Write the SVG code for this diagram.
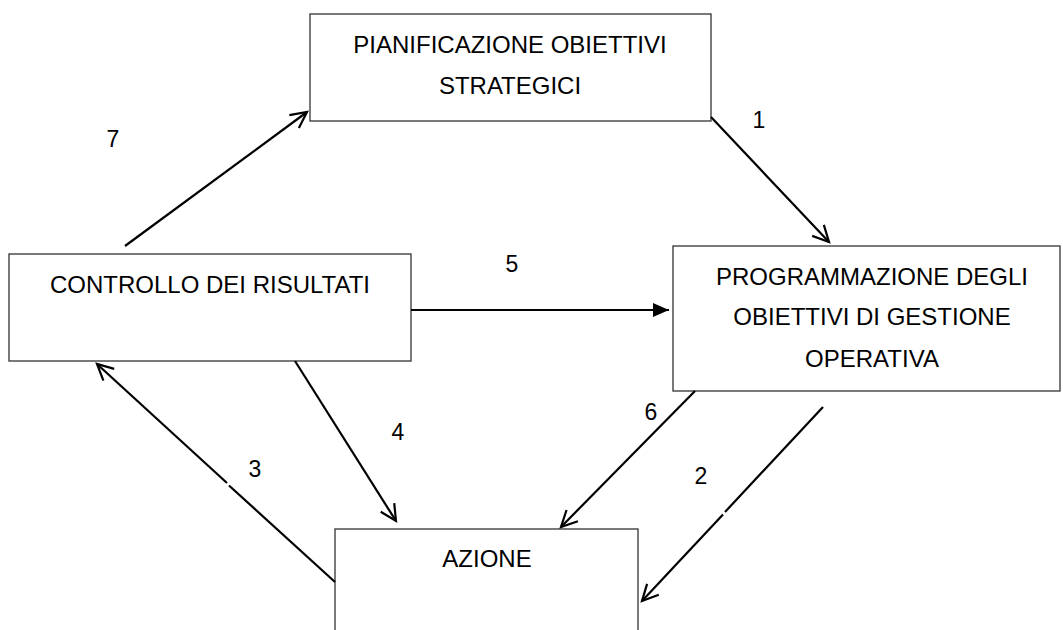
<svg xmlns="http://www.w3.org/2000/svg" width="1063" height="630" viewBox="0 0 1063 630">
  <style>
    .box { fill: #ffffff; stroke: #404040; stroke-width: 1.4; }
    .lbl { font-family: "Liberation Sans", Arial, sans-serif; font-size: 24px; fill: #000000; text-anchor: middle; }
    .num { font-family: "Liberation Sans", Arial, sans-serif; font-size: 23px; fill: #000000; text-anchor: middle; }
    .edge { fill: none; stroke: #000000; stroke-width: 2.2; }
  </style>
  <defs>
    <!-- open V arrowhead -->
    <marker id="open" markerUnits="userSpaceOnUse" markerWidth="24" markerHeight="24" refX="0" refY="0" viewBox="-20 -12 24 24" orient="auto" overflow="visible">
      <path d="M -16 -8 L 0 0 L -16 8" fill="none" stroke="#000000" stroke-width="2.2" stroke-linejoin="miter"/>
    </marker>
    <!-- solid triangle arrowhead -->
    <marker id="solid" markerUnits="userSpaceOnUse" markerWidth="24" markerHeight="24" refX="0" refY="0" viewBox="-20 -12 24 24" orient="auto" overflow="visible">
      <path d="M -16 -7 L 0 0 L -16 7 Z" fill="#000000" stroke="none"/>
    </marker>
  </defs>
  <rect width="1063" height="630" fill="#ffffff"/>

  <g id="pianificazione">
    <rect class="box" x="310" y="14" width="401" height="107"/>
    <text class="lbl" x="510" y="53">PIANIFICAZIONE OBIETTIVI</text>
    <text class="lbl" x="510" y="94">STRATEGICI</text>
  </g>

  <g id="controllo">
    <rect class="box" x="9" y="254" width="402" height="107"/>
    <text class="lbl" x="210" y="293">CONTROLLO DEI RISULTATI</text>
  </g>

  <g id="programmazione">
    <rect class="box" x="673" y="246" width="387" height="145"/>
    <text class="lbl" x="872" y="285">PROGRAMMAZIONE DEGLI</text>
    <text class="lbl" x="872" y="325">OBIETTIVI DI GESTIONE</text>
    <text class="lbl" x="872" y="367">OPERATIVA</text>
  </g>

  <g id="azione">
    <rect class="box" x="335" y="529" width="303" height="120"/>
    <text class="lbl" x="487" y="567">AZIONE</text>
  </g>

  <g id="connectors">
    <!-- 1: pianificazione -> programmazione -->
    <line class="edge" x1="711" y1="117" x2="829" y2="242" marker-end="url(#open)"/>
    <!-- 2: programmazione -> azione -->
    <line class="edge" x1="823" y1="407" x2="725" y2="512"/>
    <line class="edge" x1="723" y1="514.5" x2="642" y2="601" marker-end="url(#open)"/>
    <!-- 3: azione -> controllo -->
    <line class="edge" x1="335" y1="582" x2="229" y2="485.5"/>
    <line class="edge" x1="227" y1="483" x2="97" y2="364" marker-end="url(#open)"/>
    <!-- 4: controllo -> azione -->
    <line class="edge" x1="295" y1="361" x2="396" y2="521" marker-end="url(#open)"/>
    <!-- 5: controllo -> programmazione -->
    <line class="edge" x1="411" y1="310" x2="669" y2="310" marker-end="url(#solid)"/>
    <!-- 6: programmazione -> azione -->
    <line class="edge" x1="695" y1="391" x2="561" y2="527" marker-end="url(#open)"/>
    <!-- 7: controllo -> pianificazione -->
    <line class="edge" x1="125" y1="246" x2="307" y2="112" marker-end="url(#open)"/>

    <text class="num" x="759" y="128">1</text>
    <text class="num" x="701" y="484">2</text>
    <text class="num" x="255" y="477">3</text>
    <text class="num" x="398" y="440">4</text>
    <text class="num" x="512" y="272">5</text>
    <text class="num" x="651" y="420">6</text>
    <text class="num" x="113" y="147">7</text>
  </g>
</svg>
